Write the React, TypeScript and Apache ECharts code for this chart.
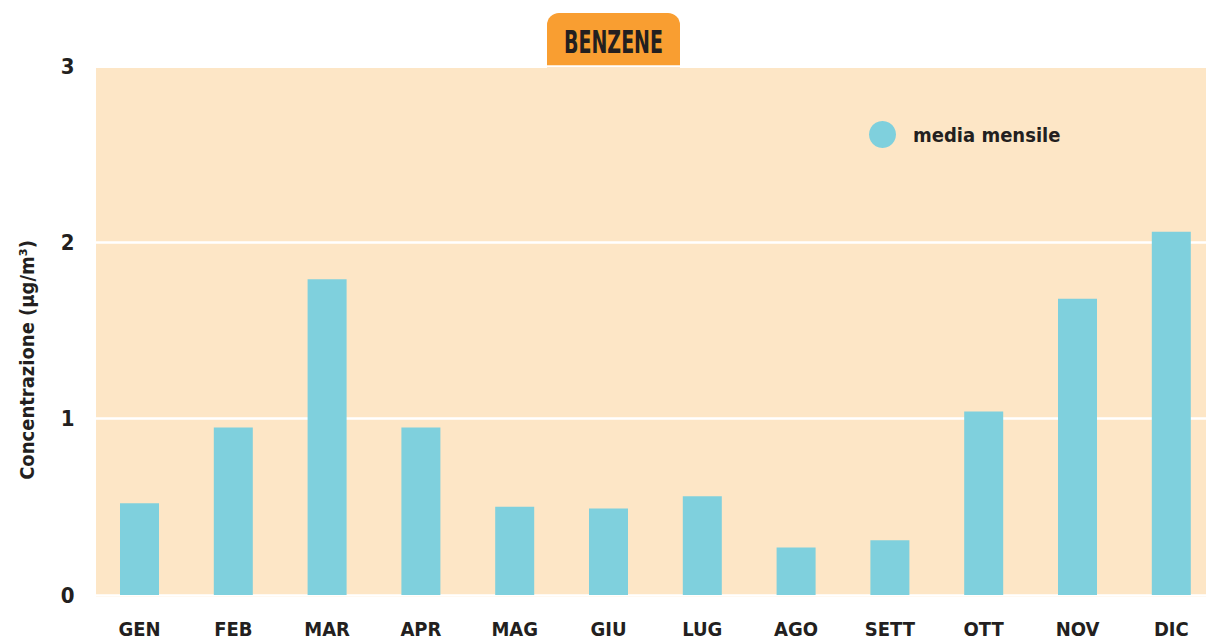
import React, { useEffect, useRef } from "react";
import * as echarts from "echarts";

const months = ["GEN", "FEB", "MAR", "APR", "MAG", "GIU", "LUG", "AGO", "SETT", "OTT", "NOV", "DIC"];
const mediaMensile = [0.52, 0.95, 1.79, 0.95, 0.5, 0.49, 0.56, 0.27, 0.31, 1.04, 1.68, 2.06];
const yTicks = [0, 1, 2, 3];
const yTitle = "Concentrazione (µg/m³)";
const chartTitle = "BENZENE";

const FONT = '"Liberation Sans Narrow", "DejaVu Sans Condensed", "Roboto Condensed", "Roboto", sans-serif';
const TXT = "#231f20";

export default function App() {
  const ref = useRef<HTMLDivElement>(null);
  useEffect(() => {
    if (!ref.current) return;
    const chart = echarts.init(ref.current, null, { renderer: "svg" });
    chart.setOption({
      animation: false,
      backgroundColor: "#ffffff",
      textStyle: { fontFamily: FONT },
      grid: { left: 92.6, top: 66, width: 1125.6, bottom: 48, containLabel: false },
      legend: {
        left: 864,
        top: 116,
        padding: 5,
        icon: "circle",
        itemWidth: 27,
        itemHeight: 27,
        itemGap: 10,
        textStyle: { fontFamily: FONT, fontSize: 20, fontWeight: "bold", color: TXT, padding: [0, 0, 0, 12] },
        data: ["media mensile"],
      },
      graphic: [
        {
          type: "rect",
          z: -10,
          silent: true,
          shape: { x: 96, y: 68, width: 1110, height: 529 },
          style: { fill: "#fde6c6" },
        },
        {
          type: "rect",
          z: -10,
          silent: true,
          shape: { x: 547, y: 13, width: 133, height: 55, r: [12, 12, 0, 0] },
          style: { fill: "#f99e31" },
        },
        {
          type: "text",
          z: 10,
          silent: true,
          x: 613.5,
          y: 42,
          scaleX: 0.66,
          style: {
            text: chartTitle,
            fontFamily: FONT,
            fontSize: 32,
            fontWeight: "bold",
            fill: TXT,
            align: "center",
            verticalAlign: "middle",
          },
        },
        {
          type: "text",
          z: 10,
          silent: true,
          x: 27,
          y: 360,
          rotation: Math.PI / 2,
          style: {
            text: yTitle,
            fontFamily: FONT,
            fontSize: 20,
            fontWeight: "bold",
            fill: TXT,
            align: "center",
            verticalAlign: "middle",
          },
        },
      ],
      xAxis: {
        type: "category",
        data: months,
        boundaryGap: true,
        axisLine: { show: false },
        axisTick: { show: false },
        axisLabel: {
          margin: 24,
          fontFamily: FONT,
          fontSize: 20,
          fontWeight: "bold",
          color: TXT,
        },
      },
      yAxis: {
        type: "value",
        min: yTicks[0],
        max: yTicks[yTicks.length - 1],
        interval: 1,
        axisLine: { show: false },
        axisTick: { show: false },
        splitLine: { show: true, lineStyle: { color: "#ffffff", width: 2.5 } },
        axisLabel: {
          margin: 18,
          fontFamily: FONT,
          fontSize: 22,
          fontWeight: "bold",
          color: TXT,
        },
      },
      series: [
        {
          name: "media mensile",
          type: "bar",
          data: mediaMensile,
          barWidth: 39,
          z: 2,
          itemStyle: { color: "#7fd0dd" },
        },
      ],
    });
    return () => chart.dispose();
  }, []);
  return (
    <div style={{ position: "absolute", left: 0, top: 0, width: 1206, height: 643, overflow: "hidden" }}>
      <div ref={ref} style={{ width: 1230, height: 643 }} />
    </div>
  );
}
